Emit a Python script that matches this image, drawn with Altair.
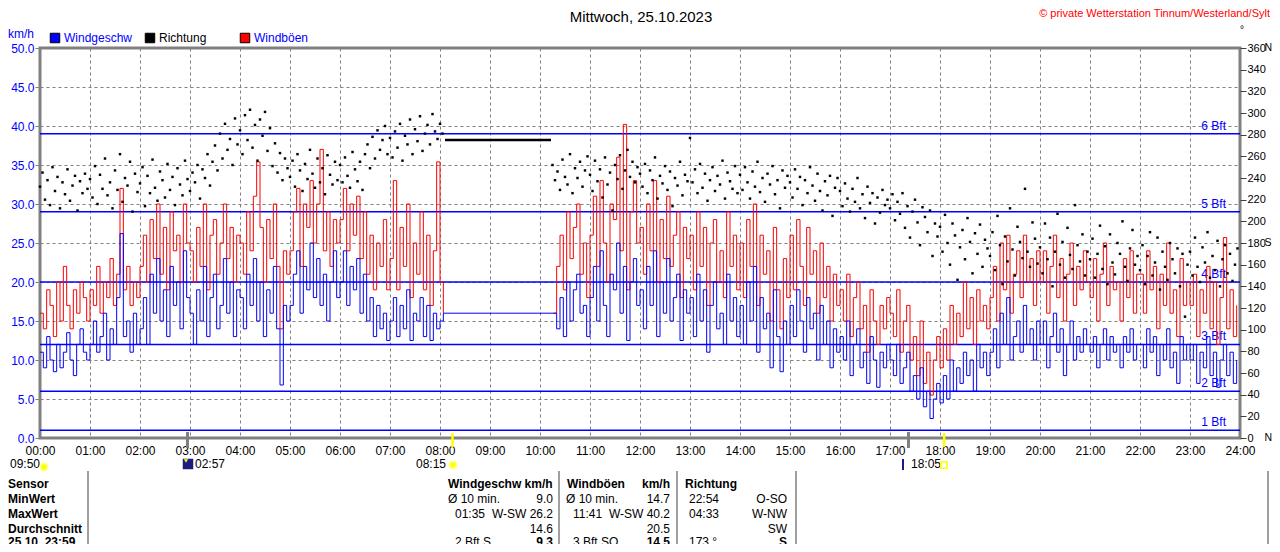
import altair as alt
import pandas as pd

FONT = "Liberation Sans"
BLUE = "#0000ff"
RED = "#ff0000"
GRAY = "#808080"
NAVY = "#1c1c80"

# ---------------- Windgeschw (km/h), 4-minute samples 00:00 - 08:04 ----------------
speed_h00 = [11, 9, 13, 10, 8.5, 12, 9, 11, 13.5, 10, 8, 12, 14, 11, 10]
speed_h01 = [12, 15, 11, 13, 16, 10, 14, 12, 18, 26.2, 13, 15, 11, 16, 12]
speed_h02 = [14, 18, 12, 21, 16, 23, 15, 19, 13, 22, 17, 20, 14, 24, 18]
speed_h03 = [16, 12, 19, 15, 22, 13, 18, 21, 14, 17, 23, 16, 20, 13, 19]
speed_h04 = [18, 14, 21, 17, 23, 15, 20, 13, 19, 16, 22, 14, 6.8, 17, 15]
speed_h05 = [17, 21, 24, 16, 22, 19, 25, 18, 23, 17, 21, 15, 20, 24, 18]
speed_h06 = [20, 24, 17, 22, 19, 23, 16, 21, 15, 18, 13, 17, 14, 16, 12.5]
speed_h07 = [15, 18, 13, 17, 14, 19, 12.5, 16, 15, 18, 13, 17, 12.5, 16, 14]
speed_h08 = [15, 16]
# ---------------- Windgeschw, 4-minute samples 10:16 - 23:56 ----------------
speed_h10 = [16, 14, 18, 13, 20, 15, 19, 21, 16, 17, 13]
speed_h11 = [18, 22, 15, 24, 17, 13, 21, 19, 25, 16, 22, 12.5, 20, 23, 17]
speed_h12 = [19, 14, 22, 17, 24, 13, 20, 16, 23, 15, 18, 21, 12.5, 19, 16]
speed_h13 = [18, 13, 21, 15, 19, 11, 17, 20, 14, 16, 12, 21, 15, 18, 13]
speed_h14 = [17, 12, 20, 15, 22, 11, 18, 14, 16, 9, 19, 13, 8.5, 15, 12]
speed_h15 = [17, 13, 19, 15, 11, 18, 14, 16, 10, 17, 12, 15, 9, 14, 11]
speed_h16 = [13, 10, 15, 8, 12, 14, 9, 11, 7, 13, 10, 6.5, 11, 9, 12]
speed_h17 = [10, 8, 12, 7, 9, 11, 6, 8, 5, 9, 4, 6, 2.5, 5, 7]
speed_h18 = [4.5, 8, 5, 10, 6, 9, 7, 11, 8, 10, 6, 12, 9, 11, 8]
speed_h19 = [11, 14, 9, 16, 12, 18, 10, 13, 15, 11, 17, 12, 14, 10, 15]
speed_h20 = [12, 15, 9, 13, 16, 11, 14, 8, 12, 15, 10, 13, 11, 14, 12]
speed_h21 = [11, 13, 9, 12, 14, 10, 13, 11, 12, 9, 13, 11, 14, 10, 12]
speed_h22 = [12, 9, 14, 11, 13, 8, 12, 10, 14, 9, 11, 7, 13, 10, 12]
speed_h23 = [10, 12, 7, 11, 9, 13, 8, 11, 6.5, 10, 12, 8, 11, 7, 10]

# ---------------- Windböen (km/h), same timestamps ----------------
gust_h00 = [16, 14, 19, 17, 13, 20, 15, 22, 17, 14, 19, 16, 20, 18, 15]
gust_h01 = [19, 17, 22, 16, 20, 18, 23, 17, 21, 32, 19, 22, 17, 20, 18]
gust_h02 = [22, 26, 20, 28, 23, 30, 21, 27, 19, 29, 24, 26, 20, 30, 25]
gust_h03 = [24, 20, 27, 22, 30, 19, 26, 28, 21, 25, 30, 23, 27, 20, 26]
gust_h04 = [25, 21, 29, 24, 31, 35.4, 27, 20, 28, 23, 30, 22, 14, 24, 21]
gust_h05 = [24, 29, 32, 22, 30, 27, 33, 25, 30, 37, 24, 29, 22, 28, 25]
gust_h06 = [28, 32, 24, 30, 26, 31, 23, 29, 21, 26, 19, 25, 22, 28, 19]
gust_h07 = [23, 33, 19, 27, 22, 30, 18, 25, 21, 29, 19, 26, 17, 24, 35.4]
gust_h08 = [20, 16]
gust_h10 = [16, 22, 26, 19, 29, 23, 27, 30, 21, 25, 18]
gust_h11 = [26, 31, 22, 33, 25, 20, 30, 28, 36, 24, 40.2, 19, 29, 33, 25]
gust_h12 = [27, 21, 30, 24, 33, 20, 28, 23, 31, 22, 26, 29, 18, 27, 23]
gust_h13 = [26, 19, 29, 22, 27, 17, 25, 28, 20, 24, 18, 29, 22, 26, 19]
gust_h14 = [25, 18, 28, 22, 30, 17, 26, 21, 24, 15, 27, 19, 14, 23, 18]
gust_h15 = [26, 19, 28, 22, 17, 27, 21, 24, 16, 25, 18, 22, 15, 21, 17]
gust_h16 = [19, 15, 21, 13, 18, 20, 14, 17, 11, 19, 15, 12, 17, 14, 18]
gust_h17 = [16, 13, 19, 11, 15, 17, 10, 13, 8, 15, 7, 11, 5.5, 10, 13]
gust_h18 = [9, 14, 10, 17, 12, 16, 13, 20, 14, 18, 12, 19, 15, 17, 14]
gust_h19 = [18, 22, 15, 25, 19, 26, 16, 21, 24, 18, 26, 20, 23, 17, 24]
gust_h20 = [20, 24, 16, 22, 26, 18, 23, 15, 21, 25, 17, 22, 19, 24, 20]
gust_h21 = [18, 23, 15, 21, 25, 17, 22, 19, 20, 15, 23, 18, 24, 16, 21]
gust_h22 = [21, 16, 24, 19, 22, 14, 21, 17, 25, 16, 19, 13, 23, 17, 20]
gust_h23 = [17, 21, 13, 19, 16, 22, 14, 20, 12, 18, 25.7, 14, 19, 13, 17]

# ---------------- Richtung (degrees), 3-minute samples ----------------
dir_h00 = [232, 245, 220, 238, 215, 250, 228, 241, 212, 236, 225, 248, 219, 233, 242, 210, 237, 226, 244, 230]
dir_h01 = [239, 222, 251, 216, 243, 230, 258, 224, 236, 212, 247, 229, 262, 218, 240, 233, 255, 209, 244, 227]
dir_h02 = [235, 250, 214, 242, 226, 257, 231, 219, 246, 238, 222, 253, 229, 241, 215, 249, 234, 224, 256, 239]
dir_h03 = [228, 245, 236, 252, 221, 248, 240, 262, 233, 255, 270, 247, 281, 258, 290, 266, 276, 252, 295, 271]
dir_h04 = [284, 262, 298, 275, 303, 268, 289, 256, 294, 279, 301, 265, 286, 251, 272, 245, 263, 238, 258, 249]
dir_h05 = [241, 256, 232, 262, 247, 228, 253, 239, 266, 244, 231, 258, 236, 249, 225, 261, 243, 234, 255, 238]
dir_h06 = [252, 236, 259, 242, 231, 264, 248, 237, 255, 229, 262, 271, 249, 278, 258, 284, 266, 275, 288, 262]
dir_h07 = [277, 259, 283, 268, 290, 256, 279, 271, 294, 262, 285, 274, 297, 265, 281, 289, 271, 299, 283, 276]
dir_h08 = [290, 281]
dir_h10 = [252, 238, 246, 229, 257, 241, 234, 262, 226, 249, 240, 255, 232, 247, 260]
dir_h11 = [243, 228, 256, 237, 248, 222, 259, 234, 245, 210, 252, 239, 261, 230, 247, 266, 241, 255, 236, 250]
dir_h12 = [244, 232, 253, 226, 247, 238, 259, 221, 242, 235, 251, 229, 246, 214, 240, 233, 255, 224, 243, 237]
dir_h13 = [277, 236, 248, 226, 253, 231, 244, 219, 238, 250, 228, 242, 234, 256, 221, 245, 237, 230, 251, 226]
dir_h14 = [243, 229, 250, 236, 221, 246, 232, 255, 227, 240, 218, 244, 234, 251, 225, 238, 212, 247, 231, 242]
dir_h15 = [236, 222, 248, 230, 241, 215, 238, 226, 250, 233, 219, 244, 228, 210, 237, 224, 242, 205, 231, 240]
dir_h16 = [228, 214, 235, 221, 209, 230, 218, 240, 212, 225, 203, 232, 217, 226, 198, 222, 208, 229, 215, 220]
dir_h17 = [212, 225, 201, 218, 207, 226, 194, 214, 185, 209, 220, 199, 178, 213, 204, 190, 210, 168, 198, 186]
dir_h18 = [195, 172, 206, 180, 160, 198, 187, 146, 176, 192, 165, 203, 181, 152, 189, 170, 197, 158, 183, 175]
dir_h19 = [168, 190, 155, 205, 178, 142, 186, 163, 212, 174, 150, 195, 181, 166, 230, 172, 158, 199, 184, 161]
dir_h20 = [176, 152, 198, 165, 185, 140, 172, 207, 160, 181, 148, 194, 169, 156, 215, 178, 163, 188, 150, 172]
dir_h21 = [165, 184, 148, 170, 196, 156, 177, 142, 188, 162, 151, 180, 170, 200, 158, 145, 175, 192, 160, 168]
dir_h22 = [155, 178, 142, 168, 190, 150, 162, 185, 137, 172, 158, 146, 180, 165, 152, 175, 140, 170, 112, 160]
dir_h23 = [172, 150, 185, 158, 144, 176, 162, 190, 148, 168, 155, 182, 140, 165, 178, 152, 170, 145, 160, 175]

# data gap (station offline): held values
gap_start_h = [8.1]
gap_end_h = [10.22]
gap_dir = [275]

# Beaufort thresholds (km/h)
bft_values = [1, 6, 12, 20, 29, 39]
bft_labels = ["1 Bft", "2 Bft", "3 Bft", "4 Bft", "5 Bft", "6 Bft"]

# sun / moon events (hours)
sun_events = [8.25, 18.083]
moon_events = [2.95, 17.37]

# summary table
row_labels = ["Sensor", "MinWert", "MaxWert", "Durchschnitt", "25.10. 23:59"]
speed_left = ["Ø 10 min.", "01:35", "", "2 Bft S"]
speed_right = ["9.0", "W-SW 26.2", "14.6", "9.3"]
gust_left = ["Ø 10 min.", "11:41", "", "3 Bft SO"]
gust_right = ["14.7", "W-SW 40.2", "20.5", "14.5"]
dir_left = ["22:54", "04:33", "", "173 °"]
dir_right = ["O-SO", "W-NW", "SW", "S"]

# ---------------- build tables ----------------
speed_a = speed_h00 + speed_h01 + speed_h02 + speed_h03 + speed_h04 + speed_h05 + speed_h06 + speed_h07 + speed_h08
speed_b = (speed_h10 + speed_h11 + speed_h12 + speed_h13 + speed_h14 + speed_h15 + speed_h16 + speed_h17
           + speed_h18 + speed_h19 + speed_h20 + speed_h21 + speed_h22 + speed_h23)
gust_a = gust_h00 + gust_h01 + gust_h02 + gust_h03 + gust_h04 + gust_h05 + gust_h06 + gust_h07 + gust_h08
gust_b = (gust_h10 + gust_h11 + gust_h12 + gust_h13 + gust_h14 + gust_h15 + gust_h16 + gust_h17
          + gust_h18 + gust_h19 + gust_h20 + gust_h21 + gust_h22 + gust_h23)
dir_a = dir_h00 + dir_h01 + dir_h02 + dir_h03 + dir_h04 + dir_h05 + dir_h06 + dir_h07 + dir_h08
dir_b = (dir_h10 + dir_h11 + dir_h12 + dir_h13 + dir_h14 + dir_h15 + dir_h16 + dir_h17
         + dir_h18 + dir_h19 + dir_h20 + dir_h21 + dir_h22 + dir_h23)

t_a = [i * 4 / 60 for i in range(len(speed_a))]
t_b = [(616 + i * 4) / 60 for i in range(len(speed_b))]
wind = pd.DataFrame({"t": t_a + t_b, "speed": speed_a + speed_b, "gust": gust_a + gust_b,
                     "seg": ["a"] * len(t_a) + ["b"] * len(t_b)})
td_a = [i * 3 / 60 for i in range(len(dir_a))]
td_b = [(615 + i * 3) / 60 for i in range(len(dir_b))]
dirs = pd.DataFrame({"t": td_a + td_b, "dir": dir_a + dir_b})
gap = pd.DataFrame({"t0": gap_start_h, "t1": gap_end_h, "d": gap_dir})
bft = pd.DataFrame({"v": bft_values, "label": bft_labels})
sun = pd.DataFrame({"t": sun_events})
moon = pd.DataFrame({"t": moon_events})

# ---------------- scales / axes ----------------
xs = alt.Scale(domain=[0, 24], nice=False, zero=False)
ys = alt.Scale(domain=[0, 50], nice=False)
ds = alt.Scale(domain=[0, 360], nice=False)

x_axis = alt.Axis(values=list(range(25)), labelExpr="(datum.value < 10 ? '0' : '') + datum.value + ':00'",
                  grid=True, gridDash=[3, 3], gridColor=GRAY, gridOpacity=1, gridWidth=1,
                  ticks=False, domain=False, labelFlush=False, labelColor="black",
                  labelFontSize=12, labelFont=FONT, labelPadding=7, title=None)
y_axis = alt.Axis(values=list(range(0, 51, 5)), format=".1f", grid=True, gridDash=[3, 3],
                  gridColor=GRAY, gridOpacity=1, gridWidth=1, labelColor=BLUE, tickColor=GRAY,
                  tickSize=5, domain=False, labelFlush=False, labelPadding=1, labelFontSize=12,
                  labelFont=FONT, title=None)
d_axis = alt.Axis(orient="right", values=list(range(0, 361, 20)), grid=False, labelColor="black",
                  tickColor="#404040", tickSize=6, domain=False, labelFlush=False, labelPadding=1,
                  labelFontSize=11, labelFont=FONT, title=None)

X = alt.X("t:Q", scale=xs, axis=x_axis)

bft_rules = alt.Chart(bft).mark_rule(color=BLUE, strokeWidth=1.5).encode(
    y=alt.Y("v:Q", scale=ys, axis=y_axis))
bft_text = alt.Chart(bft).mark_text(align="right", baseline="bottom", dy=-1, color=BLUE,
                                    fontSize=12, font=FONT).encode(
    y=alt.Y("v:Q", scale=ys, axis=y_axis), x=alt.value(1186), text="label:N")
gust_line = alt.Chart(wind).mark_line(color=RED, strokeWidth=1, interpolate="step-after").encode(
    x=X, y=alt.Y("gust:Q", scale=ys, axis=y_axis), detail="seg:N")
speed_line = alt.Chart(wind).mark_line(color=BLUE, strokeWidth=1, interpolate="step-after").encode(
    x=X, y=alt.Y("speed:Q", scale=ys, axis=y_axis))
moon_ticks = alt.Chart(moon).mark_rule(color=GRAY, strokeWidth=3).encode(
    x=X, y=alt.value(384), y2=alt.value(400))
sun_ticks = alt.Chart(sun).mark_rule(color="#ffff00", strokeWidth=2.5).encode(
    x=X, y=alt.value(385), y2=alt.value(399))

kmh = alt.layer(bft_rules, bft_text, gust_line, speed_line, moon_ticks, sun_ticks)

XD = alt.X("t:Q", scale=xs, axis=None)
dots = alt.Chart(dirs).mark_square(size=6, color="black", opacity=1).encode(
    x=XD, y=alt.Y("dir:Q", scale=ds, axis=d_axis))
gap_line = alt.Chart(gap).mark_rule(color="black", strokeWidth=2.5).encode(
    x=alt.X("t0:Q", scale=xs, axis=None), x2="t1:Q", y=alt.Y("d:Q", scale=ds, axis=d_axis))
ns = pd.DataFrame({"v": [0, 180, 360], "s": ["N", "S", "N"]})
ns_text = alt.Chart(ns).mark_text(align="left", baseline="middle", fontSize=10.5, font=FONT,
                                  color="black").encode(
    y=alt.Y("v:Q", scale=ds, axis=d_axis), x=alt.value(1224.5), text="s:N")
dirg = alt.layer(dots, gap_line, ns_text)

# ---------------- annotations (page pixel layout) ----------------
OX, OY = 40, 48


def text_layer(rows, align="left", size=12, weight="normal"):
    df = pd.DataFrame(rows, columns=["x", "y", "s", "c"])
    df["x"] = df["x"] - OX
    df["y"] = df["y"] - OY
    return alt.Chart(df).mark_text(align=align, baseline="middle", fontSize=size,
                                   fontWeight=weight, font=FONT).encode(
        x=alt.X("x:Q", scale=None, axis=None), y=alt.Y("y:Q", scale=None, axis=None),
        text="s:N", color=alt.Color("c:N", scale=None, legend=None))


row_y = [484, 499, 514, 529, 542]
left_rows = [
    (8, 34, "km/h", BLUE),
    (64, 38, "Windgeschw", BLUE),
    (159, 38, "Richtung", "black"),
    (254, 38, "Windböen", BLUE),
    (10, 464, "09:50", "black"),
    (195, 464, "02:57", "black"),
    (911, 464, "18:05", "black"),
    (448, row_y[1], speed_left[0], "black"),
    (455, row_y[2], speed_left[1], "black"),
    (455, row_y[4], speed_left[3], "black"),
    (566, row_y[1], gust_left[0], "black"),
    (573, row_y[2], gust_left[1], "black"),
    (573, row_y[4], gust_left[3], "black"),
    (689, row_y[1], dir_left[0], "black"),
    (689, row_y[2], dir_left[1], "black"),
    (689, row_y[4], dir_left[3], "black"),
]
right_rows = [
    (446, 464, "08:15", "black"),
    (553, row_y[1], speed_right[0], "black"),
    (553, row_y[2], speed_right[1], "black"),
    (553, row_y[3], speed_right[2], "black"),
    (670, row_y[1], gust_right[0], "black"),
    (670, row_y[2], gust_right[1], "black"),
    (670, row_y[3], gust_right[2], "black"),
    (787, row_y[1], dir_right[0], "black"),
    (787, row_y[2], dir_right[1], "black"),
    (787, row_y[3], dir_right[2], "black"),
]
bold_left = [(8, y, s, "black") for y, s in zip(row_y, row_labels)] + [
    (448, row_y[0], "Windgeschw km/h", "black"),
    (567, row_y[0], "Windböen", "black"),
    (685, row_y[0], "Richtung", "black"),
]
bold_right = [
    (670, row_y[0], "km/h", "black"),
    (553, row_y[4], speed_right[3], "black"),
    (670, row_y[4], gust_right[3], "black"),
    (787, row_y[4], dir_right[3], "black"),
]

title = text_layer([(641, 17, "Mittwoch, 25.10.2023", "black")], align="center", size=15)
copyright_t = text_layer([(1270, 14, "© private Wetterstation Tinnum/Westerland/Sylt", RED)],
                         align="right", size=11)
deg = text_layer([(1240, 30, "°", "black")], align="left", size=10)
t_left = text_layer(left_rows)
t_right = text_layer(right_rows, align="right")
t_bold_l = text_layer(bold_left, weight="bold")
t_bold_r = text_layer(bold_right, align="right", weight="bold")

legend_sq = pd.DataFrame({"x": [55 - OX, 150 - OX, 245 - OX], "y": [38 - OY] * 3,
                          "c": [BLUE, "black", RED]})
legend_boxes = alt.Chart(legend_sq).mark_square(size=90, filled=True, stroke="black",
                                                strokeWidth=1, opacity=1).encode(
    x=alt.X("x:Q", scale=None, axis=None), y=alt.Y("y:Q", scale=None, axis=None),
    color=alt.Color("c:N", scale=None, legend=None))

table_lines = pd.DataFrame({"x": [88 - OX, 559 - OX, 677 - OX, 796 - OX, 1268 - OX],
                            "y": [471 - OY] * 5, "y2": [560 - OY] * 5})
table_rules = alt.Chart(table_lines).mark_rule(color=GRAY, strokeWidth=1.5).encode(
    x=alt.X("x:Q", scale=None, axis=None), y=alt.Y("y:Q", scale=None, axis=None), y2="y2:Q")

icons = pd.DataFrame({"x": [44 - OX, 453 - OX], "y": [467 - OY, 465 - OY]})
sun_icons = alt.Chart(icons).mark_point(shape="circle", filled=True, size=55, color="#ffff00",
                                        stroke="#ffff99", strokeWidth=2, opacity=1).encode(
    x=alt.X("x:Q", scale=None, axis=None), y=alt.Y("y:Q", scale=None, axis=None))
moon_box = pd.DataFrame({"x": [188 - OX], "y": [464 - OY]})
moon_icon = alt.Chart(moon_box).mark_square(size=110, color=NAVY, opacity=1).encode(
    x=alt.X("x:Q", scale=None, axis=None), y=alt.Y("y:Q", scale=None, axis=None))
moon_dot = alt.Chart(pd.DataFrame({"x": [186 - OX], "y": [461 - OY]})).mark_point(
    shape="triangle-down", filled=True, size=18, color="#ffff00", opacity=1).encode(
    x=alt.X("x:Q", scale=None, axis=None), y=alt.Y("y:Q", scale=None, axis=None))
moon_bar_df = pd.DataFrame({"x": [903 - OX], "y": [459 - OY], "y2": [470 - OY]})
moon_bar = alt.Chart(moon_bar_df).mark_rule(color=NAVY, strokeWidth=2).encode(
    x=alt.X("x:Q", scale=None, axis=None), y=alt.Y("y:Q", scale=None, axis=None), y2="y2:Q")
sunset_df = pd.DataFrame({"x": [944 - OX], "y": [465 - OY]})
sunset_icon = alt.Chart(sunset_df).mark_square(size=40, filled=False, color="#ffff00",
                                               strokeWidth=1.5, opacity=1).encode(
    x=alt.X("x:Q", scale=None, axis=None), y=alt.Y("y:Q", scale=None, axis=None))

annot = alt.layer(title, copyright_t, deg, legend_boxes, t_left, t_right, t_bold_l, t_bold_r,
                  table_rules, sun_icons, moon_icon, moon_dot, moon_bar, sunset_icon)

chart = alt.layer(kmh, dirg, annot).resolve_scale(x="independent", y="independent").properties(
    width=1200, height=390,
    autosize=alt.AutoSizeParams(type="none"),
    padding={"left": 32, "top": 40, "right": 32, "bottom": 106},
    background="white",
).configure_view(stroke=GRAY, strokeWidth=3).configure_axis(labelFont=FONT)

chart.save("out.html", embed_options={"renderer": "svg", "actions": False})
